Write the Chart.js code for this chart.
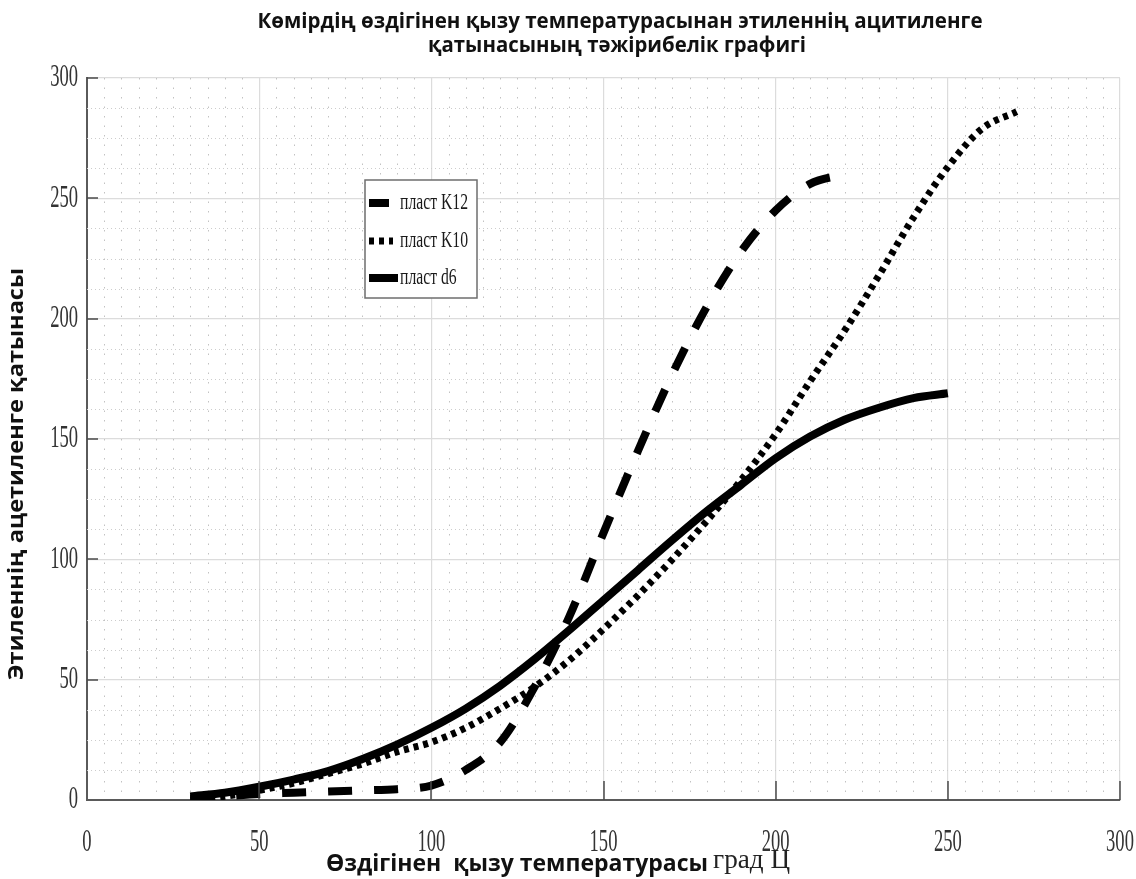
<!DOCTYPE html>
<html>
<head>
<meta charset="utf-8">
<script src="https://cdn.jsdelivr.net/npm/chart.js@4.4.1/dist/chart.umd.min.js"></script>
<style>
  html, body { margin: 0; padding: 0; background: #ffffff; }
  #wrap { width: 1136px; height: 879px; }
</style>
</head>
<body>
<div id="wrap"><canvas id="chart" width="1136" height="879"></canvas></div>
<script>
// Temperatures (град Ц) at which the ratio was recorded
const temperatures = [30, 40, 50, 60, 70, 80, 90, 100, 110, 120, 130, 140, 150, 160, 170, 180, 190, 200, 210, 220, 230, 240, 250, 260, 270];

// Ethylene / acetylene ratio for each coal seam
const plastK12 = [0.5, 1.5, 2.5, 3, 3.5, 4, 4.5, 6, 12.5, 24, 47, 76, 111, 145, 177, 205, 228, 245, 256, 260];
const plastK10 = [0, 1.5, 4, 7, 11, 15, 20, 24, 30, 38, 47, 58, 71, 85, 100, 116, 133, 152, 174, 195, 218, 242, 263, 279, 286];
const plastD6  = [1.5, 3, 5.5, 8.5, 12, 17, 23, 30, 38, 47.5, 58.5, 70.5, 83, 95.5, 108, 120, 131, 142, 151, 158, 163, 167, 169];

const seriesNames = ['пласт K12', 'пласт K10', 'пласт d6'];

const xTickValues = [0, 50, 100, 150, 200, 250, 300];
const yTickValues = [0, 50, 100, 150, 200, 250, 300];
const xMinorStep = 5;
const yMinorStep = 12.5;

const titleLines = ['Көмірдің өздігінен қызу температурасынан этиленнің ацитиленге', 'қатынасының тәжірибелік графигі'];
const xAxisTitle = 'Өздігінен  қызу температурасы';
const xAxisUnit = 'град Ц';
const yAxisTitle = 'Этиленнің ацетиленге қатынасы';

const SANS_BOLD = '"Open Sans", "Noto Sans", sans-serif';
const SERIF = '"Liberation Serif", "DejaVu Serif", serif';

const toPoints = values => values.map((v, i) => ({ x: temperatures[i], y: v }));

// Draws text scaled horizontally so it spans the given width
function drawFitted(ctx, text, x, y, width, font, align) {
  ctx.save();
  ctx.font = font;
  const natural = ctx.measureText(text).width;
  const sx = width / natural;
  ctx.textBaseline = 'middle';
  ctx.textAlign = 'left';
  const left = align === 'center' ? x - width / 2 : x;
  ctx.translate(left, y);
  ctx.scale(sx, 1);
  ctx.fillText(text, 0, 0);
  ctx.restore();
}

// Dotted minor grid between the major grid lines
const minorGrid = {
  id: 'minorGrid',
  beforeDatasetsDraw(chart) {
    const { ctx, chartArea: a, scales: { x, y } } = chart;
    ctx.save();
    ctx.strokeStyle = '#cdcdcd';
    ctx.lineWidth = 1;
    ctx.setLineDash([1, 3]);
    for (let v = yMinorStep; v < y.max; v += yMinorStep) {
      if (v % 50 === 0) continue;
      const py = Math.round(y.getPixelForValue(v)) + 0.5;
      ctx.beginPath(); ctx.moveTo(a.left, py); ctx.lineTo(a.right, py); ctx.stroke();
    }
    ctx.strokeStyle = '#c2c2c2';
    ctx.setLineDash([1.5, 8]);
    for (let v = xMinorStep; v < x.max; v += xMinorStep) {
      if (v % 50 === 0) continue;
      const px = Math.round(x.getPixelForValue(v)) + 0.5;
      ctx.beginPath(); ctx.moveTo(px, a.top); ctx.lineTo(px, a.bottom); ctx.stroke();
    }
    ctx.restore();
  }
};

// Inward tick marks and narrow serif tick labels
const axisDecor = {
  id: 'axisDecor',
  afterDraw(chart) {
    const { ctx, chartArea: a, scales: { x, y } } = chart;
    ctx.save();
    ctx.strokeStyle = '#4a4a4a';
    ctx.lineWidth = 1.5;
    x.ticks.forEach(t => {
      if (t.value === x.min) return;
      const px = Math.round(x.getPixelForValue(t.value));
      ctx.beginPath(); ctx.moveTo(px, a.bottom); ctx.lineTo(px, a.bottom - 19); ctx.stroke();
    });
    y.ticks.forEach(t => {
      if (t.value === y.min) return;
      const py = Math.round(y.getPixelForValue(t.value));
      ctx.beginPath(); ctx.moveTo(a.left, py); ctx.lineTo(a.left + 11, py); ctx.stroke();
    });

    ctx.fillStyle = '#333333';
    ctx.font = '32px ' + SERIF;
    ctx.textBaseline = 'middle';
    const sx = 0.58;
    x.ticks.forEach(t => {
      const px = x.getPixelForValue(t.value);
      ctx.save();
      ctx.translate(px, a.bottom + 43);
      ctx.scale(sx, 1);
      ctx.textAlign = 'center';
      ctx.fillText(String(t.value), 0, 0);
      ctx.restore();
    });
    y.ticks.forEach(t => {
      const py = y.getPixelForValue(t.value);
      ctx.save();
      ctx.translate(a.left - 9, py);
      ctx.scale(sx, 1);
      ctx.textAlign = 'right';
      ctx.fillText(String(t.value), 0, 0);
      ctx.restore();
    });
    ctx.restore();
  }
};

// Chart title and axis titles
const titles = {
  id: 'titles',
  afterDraw(chart) {
    const { ctx } = chart;
    ctx.save();
    ctx.fillStyle = '#111111';
    drawFitted(ctx, titleLines[0], 620, 22, 725, 'bold 22px ' + SANS_BOLD, 'center');
    drawFitted(ctx, titleLines[1], 617, 46, 378, 'bold 22px ' + SANS_BOLD, 'center');
    drawFitted(ctx, xAxisTitle, 326, 864, 382, 'bold 23px ' + SANS_BOLD, 'left');
    ctx.fillStyle = '#222222';
    drawFitted(ctx, xAxisUnit, 713, 861, 77, '28px ' + SERIF, 'left');
    ctx.fillStyle = '#111111';
    ctx.translate(17, 474);
    ctx.rotate(-Math.PI / 2);
    drawFitted(ctx, yAxisTitle, 0, 0, 412, 'bold 22px ' + SANS_BOLD, 'center');
    ctx.restore();
  }
};

// Boxed legend inside the plot area
const boxLegend = {
  id: 'boxLegend',
  afterDatasetsDraw(chart) {
    const { ctx, chartArea: a } = chart;
    const left = a.left + 278, top = a.top + 102, w = 112, h = 118;
    ctx.save();
    ctx.fillStyle = '#ffffff';
    ctx.fillRect(left, top, w, h);
    ctx.strokeStyle = '#6e6e6e';
    ctx.lineWidth = 1.5;
    ctx.strokeRect(left, top, w, h);
    const rows = [23, 61, 98];
    const sampleLen = [20, 24, 29];
    ctx.font = '24px ' + SERIF;
    const sx = 68 / ctx.measureText(chart.data.datasets[0].label).width;
    chart.data.datasets.forEach((ds, i) => {
      const cy = top + rows[i];
      ctx.strokeStyle = ds.borderColor;
      ctx.lineWidth = ds.borderWidth;
      ctx.setLineDash(ds.borderDash || []);
      ctx.lineCap = 'butt';
      ctx.beginPath();
      ctx.moveTo(left + 4, cy);
      ctx.lineTo(left + 4 + sampleLen[i], cy);
      ctx.stroke();
      ctx.setLineDash([]);
      ctx.fillStyle = '#1a1a1a';
      ctx.textBaseline = 'middle';
      ctx.save();
      ctx.translate(left + 35, cy);
      ctx.scale(sx, 1);
      ctx.fillText(ds.label, 0, 0);
      ctx.restore();
    });
    ctx.restore();
  }
};

function buildChart() {
  new Chart(document.getElementById('chart'), {
    type: 'line',
    data: {
      datasets: [
        {
          label: seriesNames[0],
          data: toPoints(plastK12),
          borderColor: '#000000',
          borderWidth: 8,
          borderDash: [24, 22],
          pointRadius: 0,
          fill: false,
          cubicInterpolationMode: 'monotone'
        },
        {
          label: seriesNames[1],
          data: toPoints(plastK10),
          borderColor: '#000000',
          borderWidth: 7,
          borderDash: [5, 5],
          pointRadius: 0,
          fill: false,
          cubicInterpolationMode: 'monotone'
        },
        {
          label: seriesNames[2],
          data: toPoints(plastD6),
          borderColor: '#000000',
          borderWidth: 8,
          pointRadius: 0,
          fill: false,
          cubicInterpolationMode: 'monotone'
        }
      ]
    },
    options: {
      responsive: false,
      devicePixelRatio: 1,
      animation: false,
      events: [],
      layout: { padding: { left: 87, right: 16, top: 78, bottom: 79 } },
      plugins: {
        legend: { display: false },
        title: { display: false },
        tooltip: { enabled: false }
      },
      scales: {
        x: {
          type: 'linear',
          min: 0,
          max: 300,
          afterBuildTicks: s => { s.ticks = xTickValues.map(v => ({ value: v })); },
          ticks: { display: false },
          grid: { color: '#dcdcdc', lineWidth: 1.2, drawTicks: false },
          border: { display: true, color: '#5a5a5a', width: 2 }
        },
        y: {
          type: 'linear',
          min: 0,
          max: 300,
          afterBuildTicks: s => { s.ticks = yTickValues.map(v => ({ value: v })); },
          ticks: { display: false },
          grid: { color: '#dcdcdc', lineWidth: 1.2, drawTicks: false },
          border: { display: true, color: '#5a5a5a', width: 2 }
        }
      }
    },
    plugins: [minorGrid, axisDecor, titles, boxLegend]
  });
}

Promise.all([
  document.fonts.load('bold 22px "Open Sans"', 'Көмірдің'),
  document.fonts.load('24px "Liberation Serif"', 'пласт 300')
]).catch(() => {}).then(buildChart);
</script>
</body>
</html>
